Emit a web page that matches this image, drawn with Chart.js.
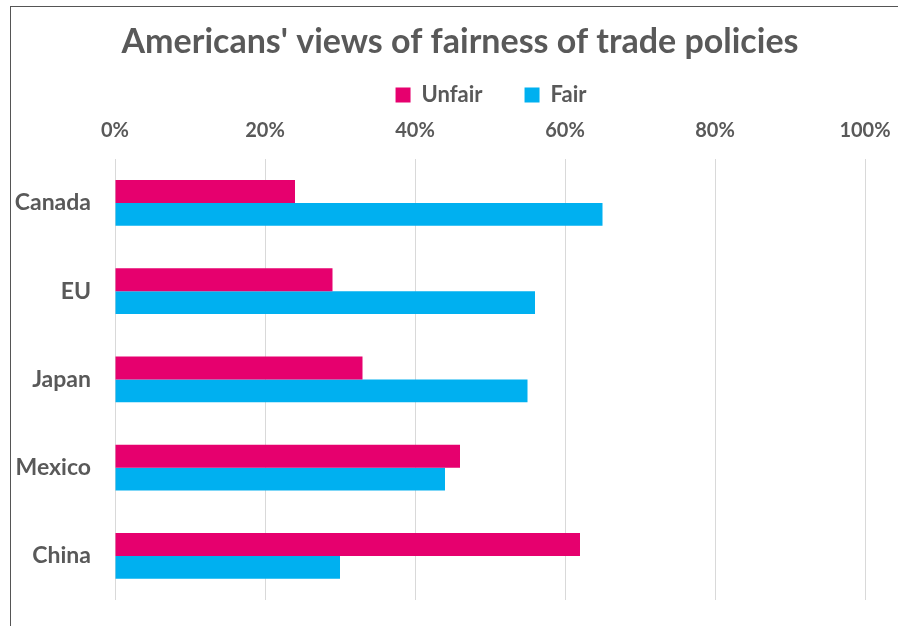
<!DOCTYPE html>
<html>
<head>
<meta charset="utf-8">
<script src="https://cdn.jsdelivr.net/npm/chart.js@4/dist/chart.umd.min.js"></script>
<style>
  html, body { margin: 0; padding: 0; background: #fff; }
  #wrap { position: relative; width: 898px; height: 626px; }
  #frame { position: absolute; left: 10px; top: 6px; right: -5px; bottom: -5px;
           border-left: 1px solid #555; border-top: 1px solid #555; pointer-events: none; }
</style>
</head>
<body>
<div id="wrap">
  <canvas id="chart" width="898" height="626"></canvas>
  <div id="frame"></div>
</div>
<script>
// Data.
const countries = [ "Canada", "EU", "Japan", "Mexico", "China" ];
const unfairValues = [ 0.24, 0.29, 0.33, 0.46, 0.62 ];
const fairValues = [ 0.65, 0.56, 0.55, 0.44, 0.30 ];
const seriesNames = [ "Unfair", "Fair" ];

const textGray = "#595959";
const fontFamily = "Lato, 'Open Sans', sans-serif";

// Move the title and legend a bit, like in the original Excel chart.
const headerShift = {
    id: "headerShift",
    afterLayout( chart ) {
        const t = chart.titleBlock;
        t.left += 20;
        t.right += 20;
        const lg = chart.legend;
        lg.left += 51;
        lg.right += 51;
        lg.top = 42;
    }
};

new Chart( document.getElementById( "chart" ), {
    type: "bar",
    data: {
        labels: countries,
        datasets: [
            { label: seriesNames[0], data: unfairValues, backgroundColor: "#E6006E" },
            { label: seriesNames[1], data: fairValues, backgroundColor: "#00B0F0" }
        ]
    },
    options: {
        indexAxis: "y",
        responsive: false,
        animation: false,
        layout: { padding: { left: 15, right: 33, top: 14, bottom: 26 } },
        datasets: { bar: { categoryPercentage: 0.52, barPercentage: 1.0 } },
        scales: {
            x: {
                position: "top",
                min: 0,
                max: 1,
                ticks: {
                    stepSize: 0.2,
                    color: textGray,
                    padding: 16,
                    font: { family: fontFamily, size: 20, weight: "bold" },
                    callback: v => Math.round( v * 100 ) + "%"
                },
                grid: { color: "#d9d9d9", drawTicks: false },
                border: { display: false },
                afterFit( scale ) {
                    scale.height = 40;
                    scale.paddingLeft = 0;
                    scale.paddingRight = 0;
                }
            },
            y: {
                ticks: {
                    color: textGray,
                    padding: 24,
                    font: { family: fontFamily, size: 23, weight: "bold" }
                },
                grid: { display: false, drawTicks: false },
                border: { display: false },
                afterFit( scale ) {
                    scale.width = 100;
                    scale.paddingTop = 0;
                    scale.paddingBottom = 0;
                }
            }
        },
        plugins: {
            title: {
                display: true,
                text: "Americans' views of fairness of trade policies",
                color: textGray,
                font: { family: fontFamily, size: 34, weight: "bold" },
                padding: { top: 8, bottom: 0 }
            },
            legend: {
                position: "top",
                maxHeight: 56,
                labels: {
                    color: textGray,
                    boxWidth: 15,
                    boxHeight: 15,
                    padding: 42,
                    font: { family: fontFamily, size: 22, weight: "bold" }
                }
            },
            tooltip: { enabled: false }
        }
    },
    plugins: [ headerShift ]
});
</script>
</body>
</html>
